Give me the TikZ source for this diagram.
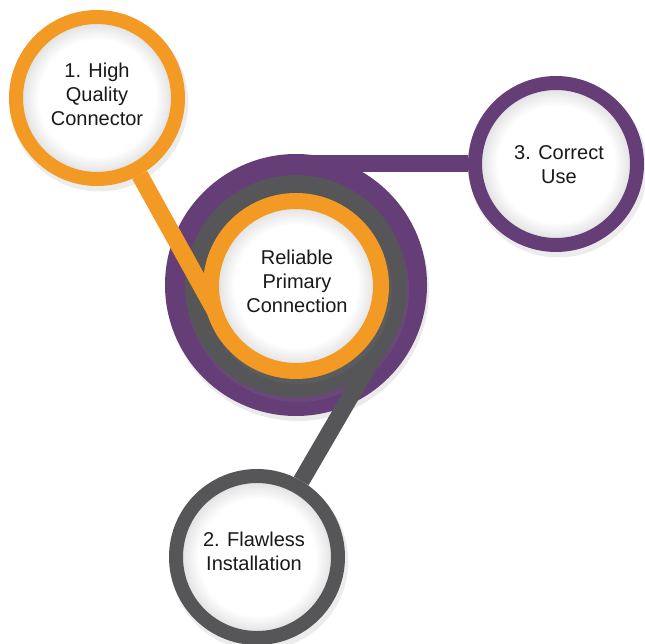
\documentclass[tikz,border=0pt]{standalone}
\usepackage{fontspec}
\setmainfont{Liberation Sans}
\usepackage{xcolor}
\usetikzlibrary{positioning, calc, shadows}

\definecolor{ringorange}{RGB}{242,154,36}
\definecolor{ringpurple}{RGB}{101,62,119}
\definecolor{ringgray}{RGB}{86,85,88}

\pgfdeclareradialshading{innerglow}{\pgfpoint{0bp}{0bp}}{color(0bp)=(white); color(18bp)=(white); color(23bp)=(black!11); color(50bp)=(black!11)}

\begin{document}
\begin{tikzpicture}[x=1pt, y=-1pt,
  topic/.style={circle, inner sep=0pt, minimum size=#1, shade, shading=innerglow,
    line width=14pt, drop shadow={opacity=.15, shadow xshift=2pt, shadow yshift=-4pt, shadow scale=1.1}},
  caption/.style={align=center, font=\fontsize{20}{24}\selectfont, text=black!90},
  disc/.style={circle, inner sep=0pt, minimum size=#1,
    drop shadow={opacity=.17, shadow xshift=2pt, shadow yshift=-5pt}},
  link/.style={line width=17pt}]
\useasboundingbox (0,0) rectangle (645,644);

% outer topics
\node[topic=162pt, draw=ringorange] (quality) at (97,98) {};
\node[topic=162pt, draw=ringgray] (install) at (257,557) {};
\node[topic=162pt, draw=ringpurple] (use) at (556,164) {};
\node[caption] (qualitytext) at ($(quality)+(0,-4)$) {1. High\\Quality\\Connector};
\node[caption] (installtext) at ($(install)+(-3,-6)$) {2. Flawless\\Installation};
\node[caption] (usetext) at ($(use)+(3,1)$) {3. Correct\\Use};

% purple base + bar
\node[disc=262pt, fill=ringpurple] (base) at (296,285) {};
\coordinate (usetap) at (296,164);
\draw[link, ringpurple] (usetap) -- (use);

% gray layer + link
\node[disc=222pt, fill=ringgray] (middle) at (296,286) {};
\coordinate (installtap) at (385,337);
\draw[link, ringgray] (install) -- (installtap);

% orange link + core
\coordinate (qualitytap) at (224,327);
\draw[link, ringorange] (quality) -- (qualitytap);
\node[topic=170pt, draw=ringorange, line width=16pt] (core) at (296,286) {};
\node[caption] (coretext) at ($(core)+(1,-5)$) {Reliable\\Primary\\Connection};
\end{tikzpicture}
\end{document}
